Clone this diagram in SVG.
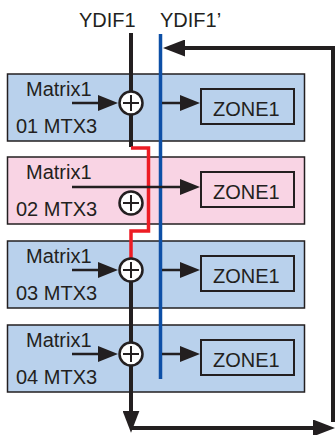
<svg xmlns="http://www.w3.org/2000/svg" width="336" height="435" viewBox="0 0 336 435">
<style>
text{font-family:"Liberation Sans",Arial,sans-serif;fill:#231f20;font-size:20px}
.bx{stroke:#231f20;stroke-width:1.5}
.blue{fill:#b9d1ec}
.pink{fill:#f9d4e4}
.zone{fill:none;stroke:#231f20;stroke-width:2}
.ar{fill:none;stroke:#231f20;stroke-width:2.5;marker-end:url(#a)}
.sum{fill:#fff;stroke:#231f20;stroke-width:2.5}
.plus{stroke:#231f20;stroke-width:2;fill:none}
.main{fill:none;stroke:#231f20;stroke-width:4}
</style>
<defs>
<marker id="a" viewBox="0 0 20 16" markerWidth="20" markerHeight="16" refX="12" refY="8" orient="auto" markerUnits="userSpaceOnUse"><path d="M0,0 L20,8 L0,16 z" fill="#231f20"/></marker>
<marker id="b" viewBox="0 0 22 17" markerWidth="22" markerHeight="17" refX="14" refY="8.5" orient="auto" markerUnits="userSpaceOnUse"><path d="M0,0 L22,8.5 L0,17 z" fill="#231f20"/></marker>
</defs>
<text x="79" y="27">YDIF1</text>
<text x="160" y="27">YDIF1’</text>
<g id="box1">
<rect class="bx blue" x="7.5" y="74" width="297" height="67"/>
<text x="26" y="96">Matrix1</text>
<text x="16" y="133">01 MTX3</text>
<rect class="zone" x="201" y="89" width="93" height="35"/>
<text x="213" y="116">ZONE1</text>
</g>
<g id="box2">
<rect class="bx pink" x="7.5" y="157" width="297" height="67"/>
<text x="26" y="179">Matrix1</text>
<text x="16" y="216">02 MTX3</text>
<rect class="zone" x="201" y="172" width="93" height="35"/>
<text x="213" y="199">ZONE1</text>
</g>
<g id="box3">
<rect class="bx blue" x="7.5" y="241" width="297" height="67"/>
<text x="26" y="263">Matrix1</text>
<text x="16" y="300">03 MTX3</text>
<rect class="zone" x="201" y="256" width="93" height="35"/>
<text x="213" y="283">ZONE1</text>
</g>
<g id="box4">
<rect class="bx blue" x="7.5" y="325" width="297" height="67"/>
<text x="26" y="347">Matrix1</text>
<text x="16" y="384">04 MTX3</text>
<rect class="zone" x="201" y="340" width="93" height="35"/>
<text x="213" y="367">ZONE1</text>
</g>
<g id="connectors">
<line x1="160.5" y1="34" x2="160.5" y2="379" stroke="#0d4fa6" stroke-width="3.5"/>
<line class="main" x1="131" y1="33" x2="131" y2="147"/>
<path d="M131,148 H148.5 V231 H131 V259" fill="none" stroke="#ed1c24" stroke-width="3.5"/>
<path class="main" d="M131,258 V424.7" style="marker-end:url(#b)"/>
<path class="main" d="M131,428 H327" style="marker-end:url(#b)"/>
<path class="main" d="M333,422 V48 H171" style="marker-end:url(#b)"/>
<line class="ar" x1="72" y1="103" x2="110" y2="103"/>
<line class="ar" x1="162" y1="103" x2="192" y2="103"/>
<line class="ar" x1="72" y1="187" x2="192" y2="187"/>
<line class="ar" x1="72" y1="270" x2="110" y2="270"/>
<line class="ar" x1="162" y1="270" x2="192" y2="270"/>
<line class="ar" x1="72" y1="354" x2="110" y2="354"/>
<line class="ar" x1="162" y1="354" x2="192" y2="354"/>
</g>
<g id="sum1"><circle class="sum" cx="131" cy="103" r="11.5"/><path class="plus" d="M123,103 H139 M131,95 V111"/></g>
<g id="sum2"><circle class="sum" cx="131" cy="203" r="11.5"/><path class="plus" d="M123,203 H139 M131,195 V211"/></g>
<g id="sum3"><circle class="sum" cx="131" cy="270" r="11.5"/><path class="plus" d="M123,270 H139 M131,262 V278"/></g>
<g id="sum4"><circle class="sum" cx="131" cy="354" r="11.5"/><path class="plus" d="M123,354 H139 M131,346 V362"/></g>
</svg>
